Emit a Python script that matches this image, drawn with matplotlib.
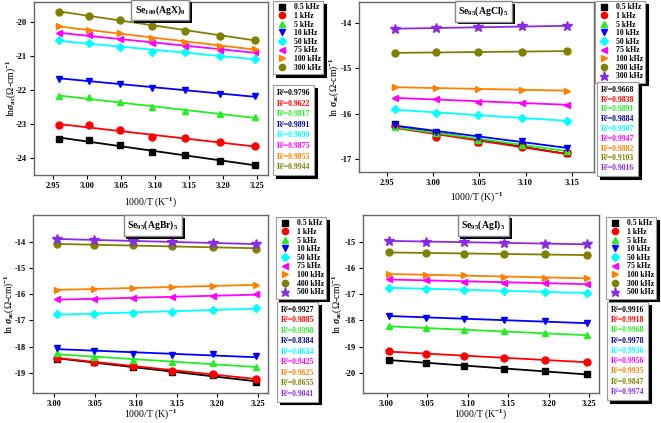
import numpy as np
import matplotlib
matplotlib.use("Agg")
import matplotlib.pyplot as plt
from matplotlib.lines import Line2D
from matplotlib.ticker import FormatStrFormatter
import matplotlib.patheffects as pe

plt.rcParams['font.family'] = ['Liberation Serif', 'DejaVu Serif']
plt.rcParams['font.weight'] = 'bold'
plt.rcParams['axes.unicode_minus'] = False
plt.rcParams['mathtext.fontset'] = 'custom'
plt.rcParams['mathtext.rm'] = 'Liberation Serif:bold'
plt.rcParams['mathtext.it'] = 'Liberation Serif:italic:bold'
plt.rcParams['mathtext.bf'] = 'Liberation Serif:bold'

##########################################################################################
## data ########
##########################################################################################
temps7 = [338, 333, 328, 323, 318, 313, 308]
temps5 = [338, 333, 328, 323, 318]
temps6 = [333, 328, 323, 318, 313, 308]

# Se100(AgX)0
p1_labels = ['0.5 kHz', '1 kHz', '5 kHz', '10 kHz', '50 kHz', '75 kHz', '100 kHz', '300 kHz']
p1_vals = [
    [-23.44, -23.48, -23.63, -23.81, -23.90, -24.08, -24.22],
    [-23.04, -23.04, -23.19, -23.38, -23.41, -23.54, -23.66],
    [-22.19, -22.21, -22.36, -22.50, -22.61, -22.71, -22.80],
    [-21.67, -21.72, -21.81, -21.93, -22.01, -22.11, -22.19],
    [-20.54, -20.62, -20.72, -20.88, -20.89, -20.99, -21.08],
    [-20.32, -20.39, -20.50, -20.62, -20.69, -20.81, -20.89],
    [-20.13, -20.23, -20.33, -20.47, -20.58, -20.70, -20.79],
    [-19.69, -19.81, -19.94, -20.11, -20.25, -20.40, -20.52],
]
p1_r2 = ['0.9796', '0.9622', '0.9817', '0.9891', '0.9699', '0.9875', '0.9855', '0.9944']

# Se95(AgCl)5
p2_labels = ['0.5 kHz', '1 kHz', '5 kHz', '10 kHz', '50 kHz', '75 kHz', '100 kHz', '200 kHz', '300 kHz']
p2_vals = [
    [-16.22, -16.45, -16.61, -16.70, -16.87],
    [-16.26, -16.50, -16.61, -16.72, -16.87],
    [-16.28, -16.42, -16.57, -16.68, -16.81],
    [-16.24, -16.40, -16.51, -16.59, -16.76],
    [-15.90, -15.98, -16.03, -16.09, -16.15],
    [-15.65, -15.68, -15.73, -15.76, -15.80],
    [-15.41, -15.44, -15.45, -15.47, -15.49],
    [-14.66, -14.65, -14.64, -14.63, -14.62],
    [-14.13, -14.11, -14.10, -14.07, -14.07],
]
p2_r2 = ['0.9668', '0.9838', '0.9891', '0.9884', '0.9907', '0.9947', '0.9882', '0.9103', '0.9016']

# Se95(AgBr)5
p3_labels = ['0.5 kHz', '1 kHz', '5 kHz', '10 kHz', '50 kHz', '75 kHz', '100 kHz', '400 kHz', '500 kHz']
p3_vals = [
    [-18.46, -18.58, -18.77, -18.96, -19.09, -19.34],
    [-18.41, -18.58, -18.75, -18.91, -19.03, -19.23],
    [-18.24, -18.39, -18.52, -18.59, -18.62, -18.77],
    [-18.03, -18.15, -18.28, -18.33, -18.29, -18.37],
    [-16.75, -16.75, -16.72, -16.67, -16.59, -16.54],
    [-16.19, -16.19, -16.15, -16.11, -16.06, -16.01],
    [-15.84, -15.80, -15.77, -15.73, -15.68, -15.65],
    [-14.10, -14.13, -14.14, -14.16, -14.22, -14.27],
    [-13.91, -13.94, -13.96, -14.01, -14.06, -14.10],
]
p3_r2 = ['0.9927', '0.9885', '0.9398', '0.8384', '0.8634', '0.9425', '0.9625', '0.8655', '0.9041']

# Se95(AgI)5
p4_labels = ['0.5 kHz', '1 kHz', '5 kHz', '10 kHz', '50 kHz', '75 kHz', '100 kHz', '300 kHz', '500 kHz']
p4_vals = [
    [-19.49, -19.62, -19.72, -19.84, -19.94, -20.04],
    [-19.15, -19.28, -19.37, -19.43, -19.49, -19.58],
    [-18.23, -18.29, -18.35, -18.42, -18.48, -18.57],
    [-17.82, -17.89, -17.94, -18.00, -18.04, -18.10],
    [-16.75, -16.80, -16.84, -16.87, -16.92, -16.95],
    [-16.43, -16.48, -16.52, -16.56, -16.58, -16.61],
    [-16.23, -16.27, -16.29, -16.33, -16.37, -16.39],
    [-15.41, -15.43, -15.46, -15.48, -15.49, -15.51],
    [-14.97, -15.00, -15.03, -15.05, -15.08, -15.10],
]
p4_r2 = ['0.9916', '0.9918', '0.9968', '0.9978', '0.9956', '0.9956', '0.9935', '0.9847', '0.9974']

colors = ['black', 'red', '#22ee22', 'blue', '#00ffff', '#ff00ff', '#ff8000', '#808000', '#8a2be2']
r2_colors = ['black', 'red', '#22ee22', '#000099', '#00ffff', '#ff00ff', '#ff8000', '#808000', '#8a2be2']
markers = ['s', 'o', '^', 'v', 'D', '<', '>', 'o', '*']
msizes = [4.5, 5, 5, 5, 4.5, 5, 5, 5, 7]

W, H = 661, 423
LEG_FS = 5.6

def fig_rect(l, r, t, b):
    return [l / W, 1 - b / H, (r - l) / W, (b - t) / H]

def title_box(ax, x, y, text):
    t = ax.text(x, y, text, transform=ax.transAxes, ha='center', va='center', fontsize=7,
                bbox=dict(facecolor='white', edgecolor='#888888', pad=2.5), zorder=6)
    t.get_bbox_patch().set_path_effects([
        pe.SimplePatchShadow(offset=(2, -2), shadow_rgbFace='black', alpha=1.0), pe.Normal()])

def draw_panel(fig, rect, temps, vals, labels, r2, xlim, ylim, xticks, yticks,
               ylab, xlab, title, tpos, leg_pos, r2_pos, r2_space, ylab_x, xlab_y):
    ax = fig.add_axes(rect)
    x = 1000.0 / np.array(temps)
    handles = []
    for i in range(len(vals)):
        y = np.array(vals[i])
        k, b = np.polyfit(x, y, 1)
        ax.plot(x, k * x + b, color=colors[i], lw=1.3, zorder=2)
        ax.plot(x, y, linestyle='none', marker=markers[i], color=colors[i],
                ms=msizes[i], zorder=3)
        handles.append(Line2D([], [], linestyle='none', marker=markers[i], color=colors[i],
                              ms=msizes[i] - 0.5))
    ax.set_xlim(xlim)
    ax.set_ylim(ylim)
    ax.set_xticks(xticks)
    ax.set_yticks(yticks)
    ax.xaxis.set_major_formatter(FormatStrFormatter('%.2f'))
    ax.yaxis.set_major_formatter(FormatStrFormatter('%d'))
    ax.tick_params(labelsize=6, length=3, width=0.8, direction='out', pad=2)
    for s in ax.spines.values():
        s.set_color('#666666')
        s.set_linewidth(1.0)
    ax.set_ylabel(ylab, fontsize=7)
    ax.set_xlabel(xlab, fontsize=7)
    ax.yaxis.set_label_coords(ylab_x, 0.5)
    ax.xaxis.set_label_coords(0.5, xlab_y)
    title_box(ax, tpos[0], tpos[1], title)

    shadow = {'color': 'black', 'alpha': 1}
    leg = fig.legend(handles, labels, loc='upper left',
                     bbox_to_anchor=(leg_pos[0] / W, 1 - leg_pos[1] / H),
                     bbox_transform=fig.transFigure, fontsize=LEG_FS, frameon=True,
                     fancybox=False, shadow=shadow, borderaxespad=0, labelspacing=0.08,
                     handletextpad=0.8, borderpad=0.3, handlelength=1.6)
    leg.get_frame().set_edgecolor('#999999')
    leg.get_frame().set_linewidth(0.8)

    empty = [Line2D([], [], linestyle='none') for _ in r2]
    rl = fig.legend(empty, ['R²=' + r for r in r2], loc='upper left',
                    bbox_to_anchor=(r2_pos[0] / W, 1 - r2_pos[1] / H),
                    bbox_transform=fig.transFigure, fontsize=LEG_FS, frameon=True,
                    fancybox=False, shadow=shadow, borderaxespad=0,
                    labelspacing=r2_space, handlelength=0, handletextpad=0,
                    borderpad=0.5, labelcolor=r2_colors[:len(r2)])
    rl.get_frame().set_edgecolor('#999999')
    rl.get_frame().set_linewidth(0.8)
    return ax

fig = plt.figure(figsize=(W / 100, H / 100), dpi=100)

draw_panel(fig, fig_rect(34, 268, 2, 175), temps7, p1_vals, p1_labels, p1_r2,
           (2.922, 3.266), (-24.5, -19.41), [2.95, 3.00, 3.05, 3.10, 3.15, 3.20, 3.25],
           [-24, -23, -22, -21, -20],
           r'ln$\sigma_{\mathrm{ac}}$(Ω-cm)$^{-1}$', r'1000/T (K$^{-1}$)',
           r'Se$_{\mathrm{100}}$(AgX)$_{\mathrm{0}}$', (0.54, 0.955), (273, 1), (273, 85),
           0.34, -0.07, -0.116)

draw_panel(fig, fig_rect(359, 594, 2, 172), temps5, p2_vals, p2_labels, p2_r2,
           (2.92, 3.174), (-17.28, -13.54), [2.95, 3.00, 3.05, 3.10, 3.15],
           [-17, -16, -15, -14],
           r'ln $\sigma_{\mathrm{ac}}$(Ω-cm)$^{-1}$', r'1000/T (K)$^{-1}$',
           r'Se$_{\mathrm{95}}$(AgCl)$_{\mathrm{5}}$', (0.53, 0.945), (595, 1), (597, 82),
           0.23, -0.075, -0.106)

draw_panel(fig, fig_rect(33, 268, 215, 393), temps6, p3_vals, p3_labels, p3_r2,
           (2.974, 3.262), (-19.76, -12.99), [3.00, 3.05, 3.10, 3.15, 3.20, 3.25],
           [-19, -18, -17, -16, -15, -14],
           r'ln $\sigma_{\mathrm{ac}}$(Ω-cm)$^{-1}$', r'1000/T (K)$^{-1}$',
           r'Se$_{\mathrm{95}}$(AgBr)$_{\mathrm{5}}$', (0.51, 0.94), (276, 217), (277, 302),
           0.32, -0.072, -0.078)

draw_panel(fig, fig_rect(363, 599, 215, 393), temps6, p4_vals, p4_labels, p4_r2,
           (2.971, 3.262), (-20.76, -13.99), [3.00, 3.05, 3.10, 3.15, 3.20, 3.25],
           [-20, -19, -18, -17, -16, -15],
           r'ln $\sigma_{\mathrm{ac}}$(Ω-cm)$^{-1}$', r'1000/T (K$^{-1}$)',
           r'Se$_{\mathrm{95}}$(AgI)$_{\mathrm{5}}$', (0.51, 0.94), (606, 217), (607, 302),
           0.29, -0.08, -0.078)

fig.savefig('out.png', dpi=100)
